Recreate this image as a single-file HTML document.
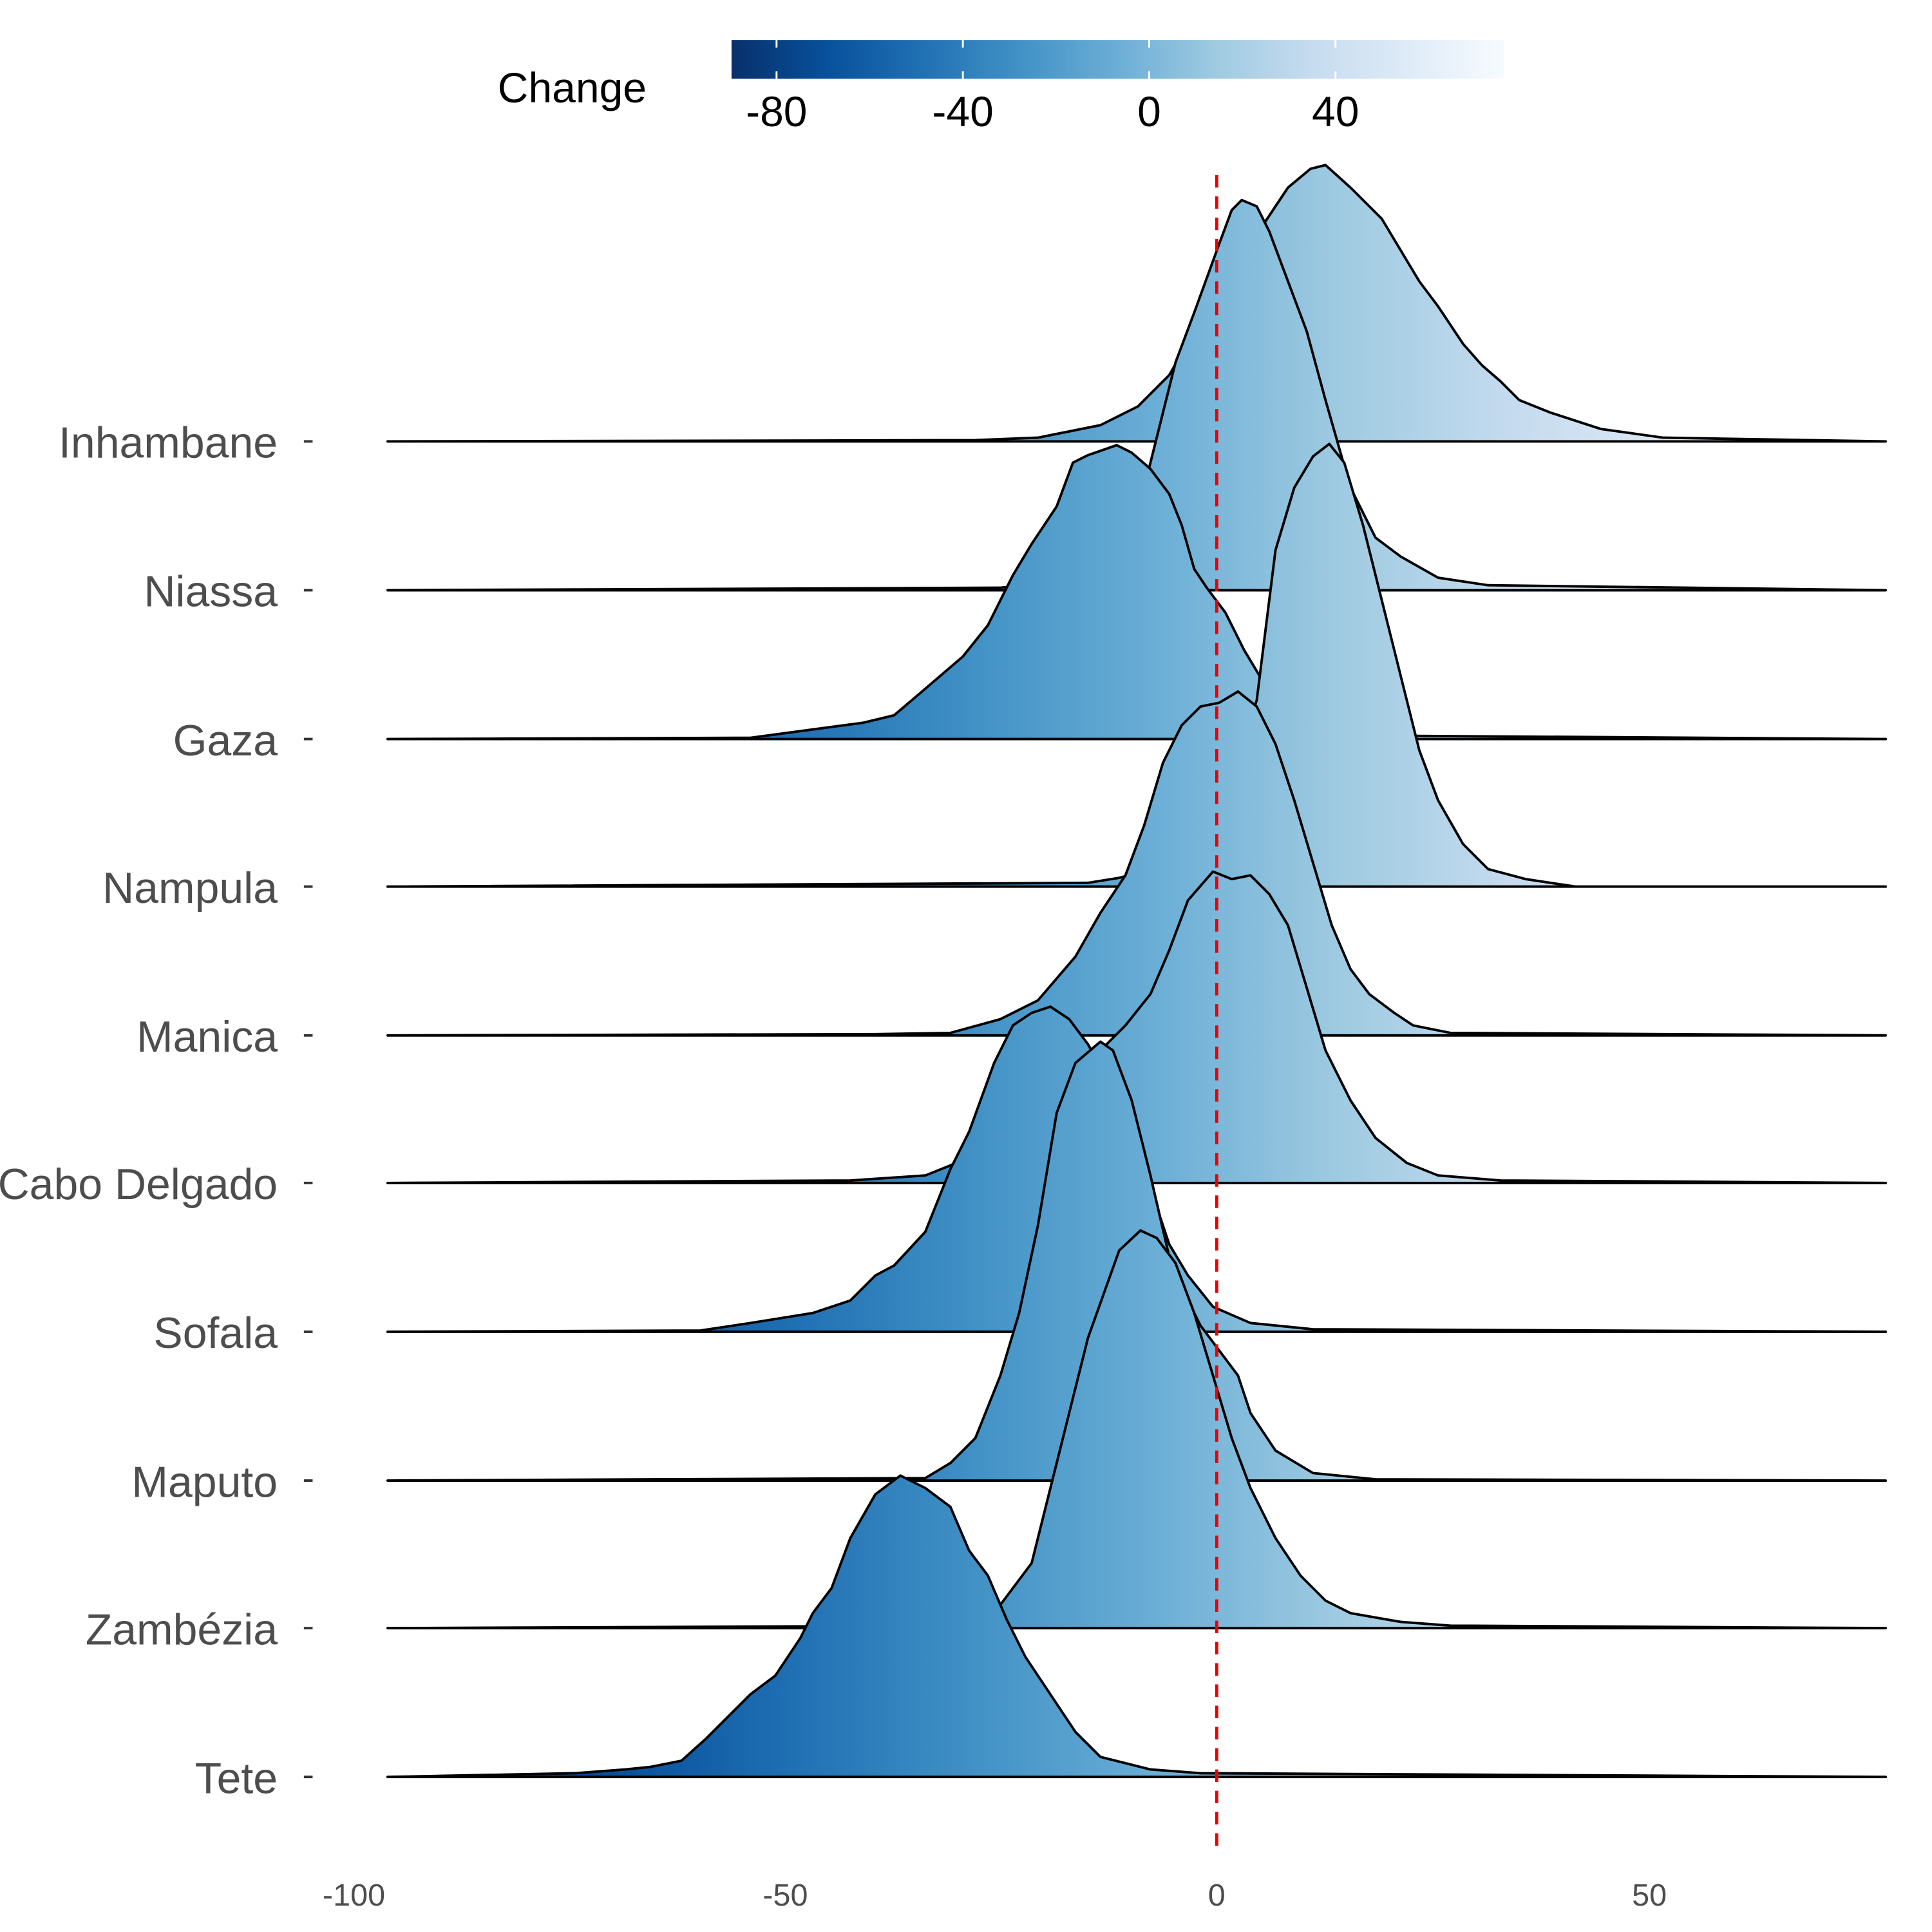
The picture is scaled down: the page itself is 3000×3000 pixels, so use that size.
<!DOCTYPE html>
<html><head><meta charset="utf-8"><style>html,body{margin:0;padding:0;background:#fff}svg{display:block}</style></head>
<body>
<svg width="3000" height="3000" viewBox="0 0 1545 1545" xmlns="http://www.w3.org/2000/svg" font-family="Liberation Sans, sans-serif">
<defs>
<linearGradient id="g" gradientUnits="userSpaceOnUse" x1="354" y1="0" x2="1497" y2="0">
<stop offset="0" stop-color="#08306b"/><stop offset="0.125" stop-color="#08519c"/><stop offset="0.25" stop-color="#2171b5"/><stop offset="0.375" stop-color="#4292c6"/><stop offset="0.5" stop-color="#6baed6"/><stop offset="0.625" stop-color="#9ecae1"/><stop offset="0.75" stop-color="#c6dbef"/><stop offset="0.875" stop-color="#deebf7"/><stop offset="1" stop-color="#f7fbff"/>
</linearGradient>
<linearGradient id="cb" x1="0" y1="0" x2="1" y2="0">
<stop offset="0" stop-color="#08306b"/><stop offset="0.125" stop-color="#08519c"/><stop offset="0.25" stop-color="#2171b5"/><stop offset="0.375" stop-color="#4292c6"/><stop offset="0.5" stop-color="#6baed6"/><stop offset="0.625" stop-color="#9ecae1"/><stop offset="0.75" stop-color="#c6dbef"/><stop offset="0.875" stop-color="#deebf7"/><stop offset="1" stop-color="#f7fbff"/>
</linearGradient>
</defs>
<g fill="url(#g)" stroke="#000" stroke-width="2" stroke-linejoin="round">
<polygon points="310,353 780,352 830,350 880,340 910,325 935,300 970,240 1010,180 1030,150 1048,135 1060,132 1080,150 1105,175 1120,200 1135,225 1150,245 1170,275 1185,292 1200,305 1215,320 1240,330 1280,343 1330,350 1508,353"/>
<polygon points="310,472 800,470 880,460 910,410 925,350 940,290 955,250 975,195 985,168 993,160 1005,165 1015,185 1030,225 1045,265 1060,320 1080,390 1100,430 1120,445 1150,462 1190,468 1508,472"/>
<polygon points="310,591 600,590 660,582 690,578 715,572 735,555 770,525 790,500 810,460 825,435 845,405 858,370 870,364 893,356 905,362 920,375 935,395 945,420 955,455 965,470 980,490 995,520 1010,545 1030,575 1060,588 1508,591"/>
<polygon points="310,709 870,706 895,702 940,690 985,620 1005,560 1020,440 1035,390 1050,365 1063,355 1075,370 1090,420 1105,480 1120,540 1135,600 1150,640 1170,675 1190,695 1220,703 1260,709 1508,709"/>
<polygon points="310,828 700,827 760,826 800,815 830,800 860,765 880,730 900,700 915,660 930,610 945,580 960,565 975,562 990,553 1005,565 1020,595 1035,640 1050,690 1065,740 1080,775 1095,795 1115,810 1130,820 1160,826 1508,828"/>
<polygon points="310,946 680,944 740,940 760,932 820,900 880,840 900,820 920,795 935,760 950,720 970,697 985,703 1000,700 1015,715 1030,740 1045,790 1060,840 1080,880 1100,910 1125,930 1150,940 1200,944 1508,946"/>
<polygon points="310,1065 560,1064 600,1058 650,1050 680,1040 700,1020 715,1012 740,985 760,935 775,905 795,850 810,820 825,810 840,805 855,815 870,835 890,870 905,905 920,950 935,995 950,1020 970,1045 1000,1058 1050,1063 1508,1065"/>
<polygon points="310,1184 740,1182 760,1170 780,1150 800,1100 815,1050 830,980 845,890 860,850 880,833 890,840 905,880 920,940 935,1005 945,1030 960,1060 975,1080 990,1100 1000,1130 1020,1160 1050,1178 1100,1183 1508,1184"/>
<polygon points="310,1302 780,1300 795,1290 810,1270 825,1250 845,1170 870,1070 895,1000 912,984 925,990 940,1010 955,1050 970,1100 985,1150 1000,1190 1020,1230 1040,1260 1060,1280 1080,1290 1120,1297 1160,1300 1508,1302"/>
<polygon points="310,1421 460,1418 500,1415 520,1413 545,1408 565,1390 580,1375 600,1355 620,1340 640,1310 650,1290 665,1270 680,1230 700,1195 720,1180 740,1190 760,1205 775,1240 790,1260 805,1295 820,1325 840,1355 860,1385 880,1405 920,1415 960,1418 1508,1421"/>
</g>
<line x1="973" y1="140" x2="973" y2="1480" stroke="#e00" stroke-width="2.5" stroke-dasharray="10,7"/>
<g font-size="35" fill="#4d4d4d" text-anchor="end">
<text x="222" y="366">Inhambane</text><text x="222" y="485">Niassa</text><text x="222" y="604">Gaza</text><text x="222" y="722">Nampula</text><text x="222" y="841">Manica</text><text x="222" y="959">Cabo Delgado</text><text x="222" y="1078">Sofala</text><text x="222" y="1197">Maputo</text><text x="222" y="1315">Zambézia</text><text x="222" y="1434">Tete</text>
</g>
<g stroke="#333" stroke-width="2">
<line x1="243" y1="353" x2="250" y2="353"/><line x1="243" y1="472" x2="250" y2="472"/><line x1="243" y1="591" x2="250" y2="591"/><line x1="243" y1="709" x2="250" y2="709"/><line x1="243" y1="828" x2="250" y2="828"/><line x1="243" y1="946" x2="250" y2="946"/><line x1="243" y1="1065" x2="250" y2="1065"/><line x1="243" y1="1184" x2="250" y2="1184"/><line x1="243" y1="1302" x2="250" y2="1302"/><line x1="243" y1="1421" x2="250" y2="1421"/>
</g>
<g font-size="25" fill="#4d4d4d" text-anchor="middle">
<text x="283" y="1524">-100</text><text x="628" y="1524">-50</text><text x="973" y="1524">0</text><text x="1319" y="1524">50</text>
</g>
<text x="398" y="82" font-size="34" fill="#000">Change</text>
<rect x="585" y="32" width="618" height="31" fill="url(#cb)"/>
<g stroke="#fff" stroke-width="1.5">
<line x1="621" y1="32" x2="621" y2="38"/><line x1="621" y1="57" x2="621" y2="63"/>
<line x1="770" y1="32" x2="770" y2="38"/><line x1="770" y1="57" x2="770" y2="63"/>
<line x1="919" y1="32" x2="919" y2="38"/><line x1="919" y1="57" x2="919" y2="63"/>
<line x1="1068" y1="32" x2="1068" y2="38"/><line x1="1068" y1="57" x2="1068" y2="63"/>
</g>
<g font-size="34" fill="#000" text-anchor="middle">
<text x="621" y="101">-80</text><text x="770" y="101">-40</text><text x="919" y="101">0</text><text x="1068" y="101">40</text>
</g>
</svg>
</body></html>
